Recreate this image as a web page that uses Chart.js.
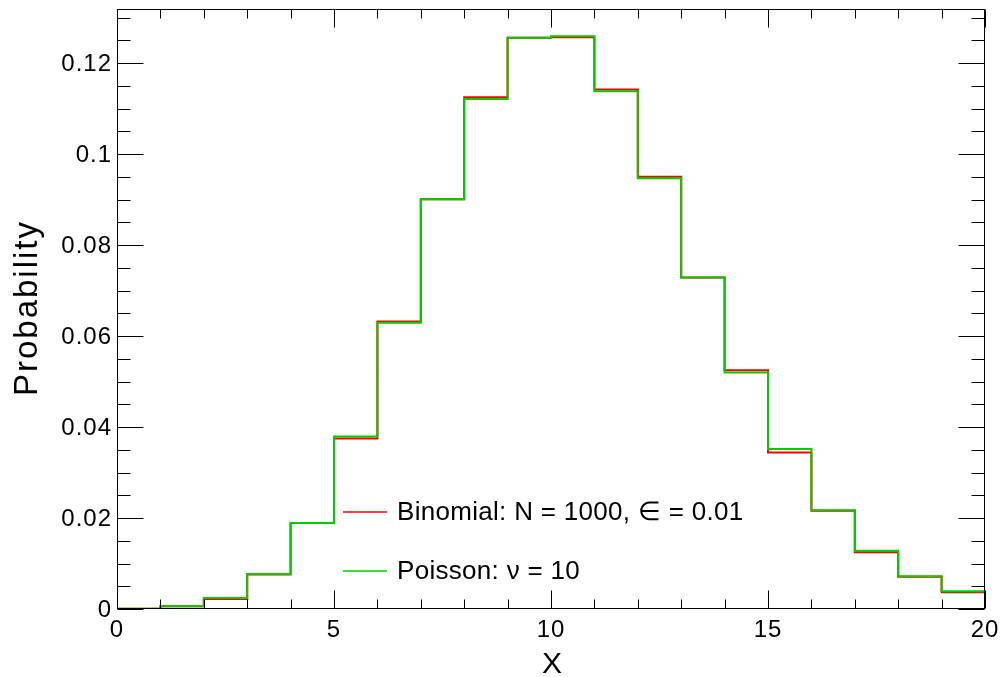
<!DOCTYPE html>
<html>
<head>
<meta charset="utf-8">
<script src="https://cdn.jsdelivr.net/npm/chart.js@4.4.0/dist/chart.umd.min.js"></script>
<style>
  html, body { margin: 0; padding: 0; background: #fff; }
  #wrap { width: 1002px; height: 677px; position: relative; }
</style>
</head>
<body>
<div id="wrap"><canvas id="myChart"></canvas></div>
<script>
// bin lower edges (x = 0..19), each bin one unit wide
const bins = [0,1,2,3,4,5,6,7,8,9,10,11,12,13,14,15,16,17,18,19];
const binomial = [0.00005,0.0006,0.0022,0.0076,0.0189,0.0375,0.0632,0.0901,0.1125,0.1256,0.1257,0.1142,0.0950,0.0729,0.0525,0.0344,0.0216,0.0125,0.0071,0.0037];
const poisson  = [0.00005,0.0006,0.0024,0.0077,0.0189,0.0379,0.0629,0.0901,0.1121,0.1256,0.1259,0.1138,0.0947,0.0729,0.0520,0.0352,0.0217,0.0128,0.0072,0.0039];
const xMajor = [0,5,10,15,20];
const xLabels = ['0','5','10','15','20'];
const yMajor = [0,0.02,0.04,0.06,0.08,0.1,0.12];
const yLabels = ['0','0.02','0.04','0.06','0.08','0.1','0.12'];
const legendLabels = ['Binomial: N = 1000, \u2208 = 0.01', 'Poisson: \u03BD = 10'];
const xTitle = 'X';
const yTitle = 'Probability';
const xMin = 0, xMax = 20, yMin = 0, yMax = 0.1319;

// histogram as step line: point at the bin's low edge, plus the last high edge
function histPoints(vals) {
  const pts = [{x: bins[0], y: 0}];
  bins.forEach((b, i) => pts.push({x: b + 1, y: vals[i]}));
  return pts;
}

const RED = 'rgb(255,0,0)';
const GREEN = 'rgb(0,204,0)';
const FONT = '"Liberation Sans", Arial, Helvetica, sans-serif';

const rootFrame = {
  id: 'rootFrame',
  afterDraw(chart) {
    const ctx = chart.ctx;
    const a = chart.chartArea;
    const xs = chart.scales.x, ys = chart.scales.y;
    const L = Math.round(a.left) + 0.5, R = Math.round(a.right) - 0.5;
    const T = Math.round(a.top) + 0.5, B = Math.round(a.bottom) - 0.5;
    ctx.save();
    ctx.strokeStyle = '#000';
    ctx.lineWidth = 1;
    ctx.beginPath();
    // x ticks, every unit, longer on majors (bottom and top)
    for (let v = xMin; v <= xMax; v++) {
      const px = Math.round(xs.getPixelForValue(v)) + 0.5;
      const len = (v % 5 === 0) ? 18 : 9;
      ctx.moveTo(px, B); ctx.lineTo(px, B - len);
      ctx.moveTo(px, T); ctx.lineTo(px, T + len);
    }
    // y ticks, minor every 0.005
    for (let k = 0; k * 0.005 <= yMax + 1e-9; k++) {
      const py = Math.round(ys.getPixelForValue(k * 0.005)) + 0.5;
      const len = (k % 4 === 0) ? 26 : 13;
      ctx.moveTo(L, py); ctx.lineTo(L + len, py);
      ctx.moveTo(R, py); ctx.lineTo(R - len, py);
    }
    ctx.stroke();
    ctx.strokeRect(L, T, R - L, B - T);

    // tick labels
    ctx.fillStyle = '#000';
    ctx.font = '24px ' + FONT;
    ctx.letterSpacing = '1px';
    ctx.textAlign = 'right';
    ctx.textBaseline = 'middle';
    yMajor.forEach((v, i) => {
      ctx.fillText(yLabels[i], a.left - 5, ys.getPixelForValue(v) + 1);
    });
    ctx.textAlign = 'center';
    ctx.textBaseline = 'alphabetic';
    xMajor.forEach((v, i) => {
      ctx.fillText(xLabels[i], xs.getPixelForValue(v), 637);
    });

    // axis titles
    ctx.font = '30px ' + FONT;
    ctx.letterSpacing = '0px';
    ctx.fillText(xTitle, xs.getPixelForValue(10) + 1, 673);
    ctx.save();
    ctx.translate(37, 308);
    ctx.rotate(-Math.PI / 2);
    ctx.font = '33px ' + FONT;
    ctx.letterSpacing = '2px';
    ctx.fillText(yTitle, 0, 0);
    ctx.restore();

    // legend
    const colors = [RED, GREEN];
    const rows = [512, 571];
    ctx.font = '26px ' + FONT;
    ctx.letterSpacing = '0.3px';
    ctx.textAlign = 'left';
    ctx.textBaseline = 'middle';
    legendLabels.forEach((lab, i) => {
      ctx.strokeStyle = colors[i];
      ctx.lineWidth = 1.5;
      ctx.beginPath();
      ctx.moveTo(343, rows[i]); ctx.lineTo(387, rows[i]);
      ctx.stroke();
      ctx.fillStyle = '#000';
      ctx.fillText(lab, 397, rows[i] + 1);
    });
    ctx.restore();
  }
};

const ctx = document.getElementById('myChart').getContext('2d');
const myChart = new Chart(ctx, {
  type: 'line',
  data: {
    datasets: [
      {
        label: legendLabels[0],
        data: histPoints(binomial),
        borderColor: RED,
        borderWidth: 2,
        stepped: 'after',
        pointRadius: 0,
        fill: false,
        order: 2
      },
      {
        label: legendLabels[1],
        data: histPoints(poisson),
        borderColor: GREEN,
        borderWidth: 2,
        stepped: 'after',
        pointRadius: 0,
        fill: false,
        order: 1
      }
    ]
  },
  options: {
    responsive: true,
    maintainAspectRatio: false,
    animation: false,
    layout: { padding: { left: 117, right: 17, top: 9, bottom: 68 } },
    plugins: {
      legend: { display: false },
      tooltip: { enabled: false }
    },
    scales: {
      x: { type: 'linear', min: xMin, max: xMax, display: false },
      y: { type: 'linear', min: yMin, max: yMax, display: false }
    }
  },
  plugins: [rootFrame]
});
</script>
</body>
</html>
